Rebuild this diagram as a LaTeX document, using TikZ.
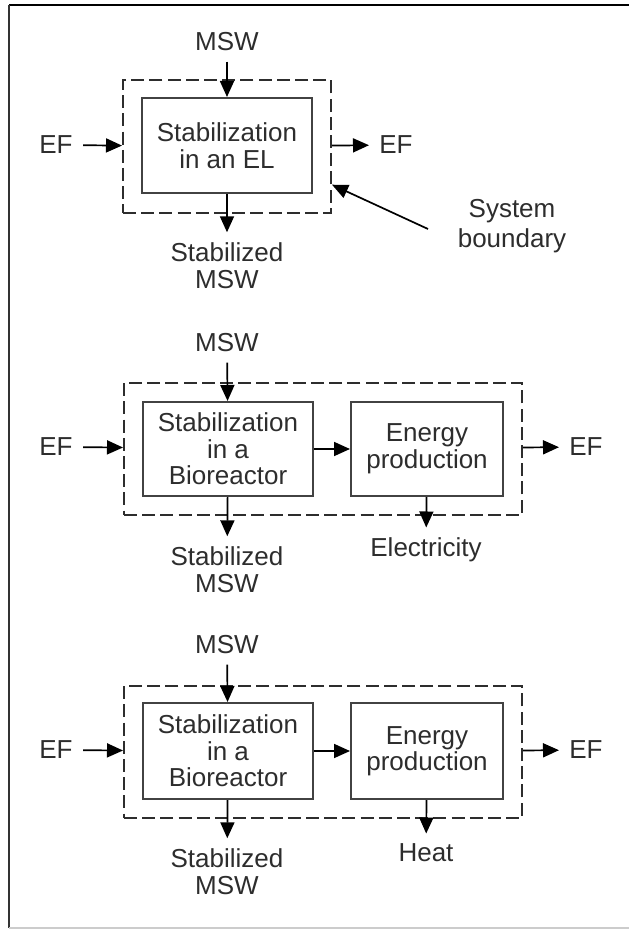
\documentclass[tikz,border=0pt]{standalone}
\usepackage{fontspec}
\setmainfont{Liberation Sans}
\usepackage{tikz}
\usetikzlibrary{arrows.meta,positioning,calc}
\definecolor{ink}{RGB}{45,45,45}
\tikzset{
    txt/.style={font=\fontsize{13pt}{13.25pt}\selectfont,text=ink},
    proc/.style={txt,draw=ink!90,rectangle,line width=1pt,inner sep=0pt,align=center},
    bound/.style={draw=ink,rectangle,line width=1pt,inner sep=0pt,dash pattern=on 6.5pt off 2.6pt},
    lbl/.style={txt,align=center,inner sep=5pt},
    flow/.style={-{Triangle[length=8pt,width=7pt]},line width=0.85pt},
}

\begin{document}
\begin{tikzpicture}[x=0.5pt,y=-0.5pt]
                \useasboundingbox (0,0) rectangle (629,929);
                \draw[line width=1.25pt] (9,5) -- (629,5);
                \draw[line width=1pt,black!80] (9,5) -- (9,928);
                \draw[line width=0.75pt,black!20] (9,928) -- (629,928);

                \node[lbl] (m1) at (227,42) {MSW};
                \node[proc,minimum width=85pt,minimum height=47.5pt] (p1) at (227,145.5) {Stabilization\\in an EL};
                \node[bound,minimum width=104pt,minimum height=66.5pt] (s1) at (227,146.5) {};
                \node[lbl] (ei1) at (56,145) {EF};
                \node[lbl] (eo1) at (396,145) {EF};
                \node[lbl] (o1) at (227,265.5) {Stabilized\\MSW};
                \node[lbl,font=\fontsize{13pt}{15pt}\selectfont] (sb) at (512,226) {System\\boundary};
                \coordinate (st) at (428,229);
                \draw[flow] (m1) -- (p1);
                \draw[flow] (ei1) -- (s1);
                \draw[flow] (s1) -- (eo1);
                \draw[flow] (p1) -- (o1);
                \draw[flow] (st) -- (s1.-20);

                \node[lbl] (m2) at (227,343) {MSW};
                \node[proc,minimum width=85pt,minimum height=47pt] (a2) at (228,449) {Stabilization\\in a\\Bioreactor};
                \node[proc,minimum width=76pt,minimum height=47pt] (b2) at (427,449) {Energy\\production};
                \node[bound,minimum width=199pt,minimum height=66pt] (s2) at (323,449) {};
                \node[lbl] (ei2) at (56,447) {EF};
                \node[lbl] (eo2) at (586,447) {EF};
                \node[lbl] (o2) at (227,569.5) {Stabilized\\MSW};
                \node[lbl] (e2) at (426,550) {Electricity};
                \draw[flow] (m2) -- (a2);
                \draw[flow] (ei2) -- (s2);
                \draw[flow] (s2) -- (eo2);
                \draw[flow] (a2) -- (b2);
                \draw[flow] (a2) -- (o2);
                \draw[flow] (b2) -- (e2);

                \node[lbl] (m3) at (227,645) {MSW};
                \node[proc,minimum width=85pt,minimum height=48pt] (a3) at (228,751) {Stabilization\\in a\\Bioreactor};
                \node[proc,minimum width=76pt,minimum height=48pt] (b3) at (427,751) {Energy\\production};
                \node[bound,minimum width=199pt,minimum height=66pt] (s3) at (323,752) {};
                \node[lbl] (ei3) at (56,750) {EF};
                \node[lbl] (eo3) at (586,750) {EF};
                \node[lbl] (o3) at (227,871.5) {Stabilized\\MSW};
                \node[lbl] (h3) at (426,853) {Heat};
                \draw[flow] (m3) -- (a3);
                \draw[flow] (ei3) -- (s3);
                \draw[flow] (s3) -- (eo3);
                \draw[flow] (a3) -- (b3);
                \draw[flow] (a3) -- (o3);
                \draw[flow] (b3) -- (h3);
%                \draw[flow] (b3) -- (s3);
            \end{tikzpicture}
\end{document}
